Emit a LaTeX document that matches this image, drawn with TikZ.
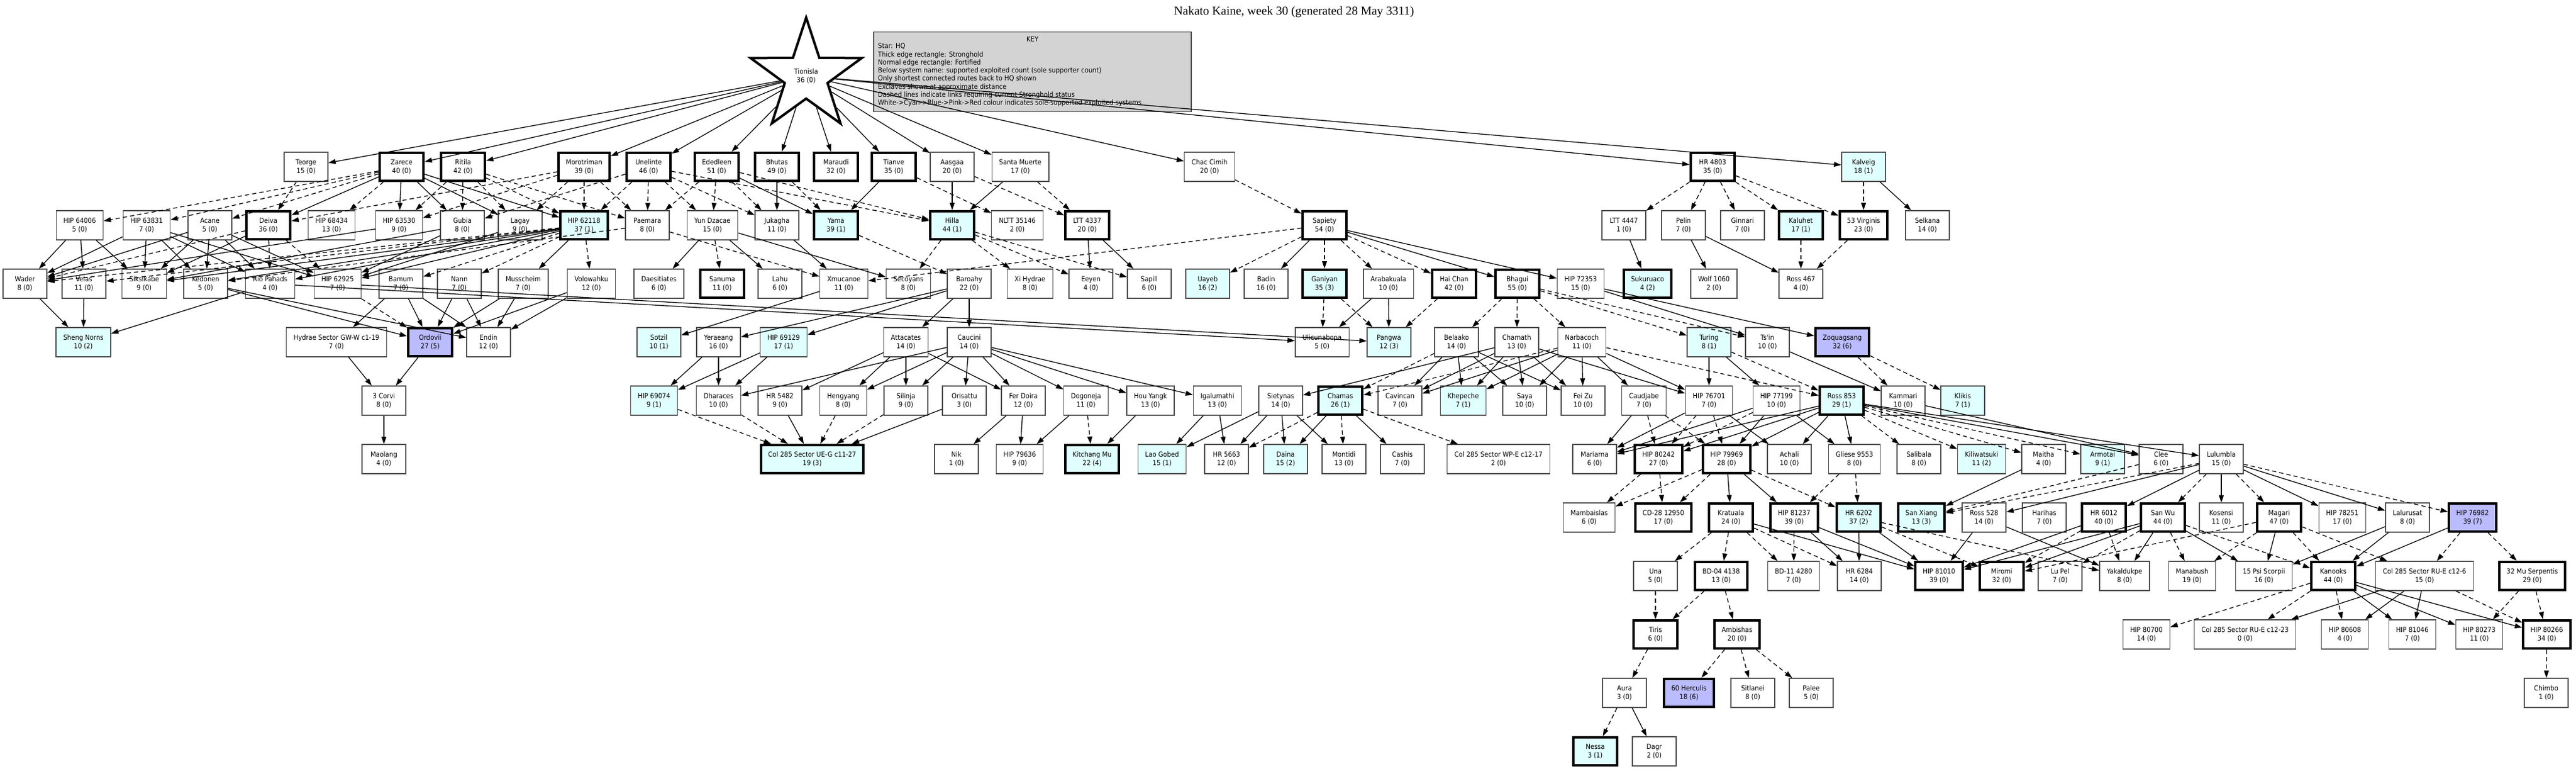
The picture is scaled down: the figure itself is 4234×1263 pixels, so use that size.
\documentclass[tikz,border=0pt]{standalone}
\usepackage{fontspec}
\usetikzlibrary{shapes.geometric,arrows.meta}
\newfontfamily\sysfont{DejaVu Sans Condensed}
\newfontfamily\ttlfont{Liberation Serif}
\definecolor{cyanbg}{HTML}{E0FFFF}
\definecolor{bluebg}{HTML}{BBBBFF}
\definecolor{keybg}{HTML}{D3D3D3}
\tikzset{
  sys/.style={draw=black!70, line width=1.3pt, fill=white, minimum width=72pt, minimum height=48pt, inner xsep=12pt, align=center, font=\sysfont\fontsize{11.5}{14}\selectfont},
  sh/.style={sys, draw=black, line width=4pt, minimum height=46pt},
  cy/.style={fill=cyanbg},
  bl/.style={fill=bluebg},
  ed/.style={line width=1.3pt, -{Triangle[length=12pt,width=8pt]}},
  dd/.style={ed, dash pattern=on 7pt off 5pt},
}
\newcommand\Sol[2]{\foreach \tt in {#2} {\draw[ed] (#1) -- (\tt);}}
\newcommand\Das[2]{\foreach \tt in {#2} {\draw[dd] (#1) -- (\tt);}}
\begin{document}
\begin{tikzpicture}[x=1pt,y=1pt]
\useasboundingbox (0,0) rectangle (4234,-1263);
% title
\node[font=\ttlfont\fontsize{20}{24}\selectfont] (title) at (2127,-20) {Nakato Kaine, week 30 (generated 28 May 3311)};
% key
\node[draw=black!70, line width=1.3pt, fill=keybg, minimum width=522pt, minimum height=131pt] (key) at (1697,-118) {};
\node[font=\sysfont\fontsize{11.5}{13.3}\selectfont] (keyt) at (1697,-64) {KEY};
\node[font=\sysfont\fontsize{11.5}{13.3}\selectfont, align=left, anchor=north west, inner sep=0pt] (keyb) at (1443,-71) {Star: HQ\\Thick edge rectangle: Stronghold\\Normal edge rectangle: Fortified\\Below system name: supported exploited count (sole supporter count)\\Only shortest connected routes back to HQ shown\\Exclaves shown at approximate distance\\Dashed lines indicate links requiring current Stronghold status\\White->Cyan->Blue->Pink->Red colour indicates sole-supported exploited systems};
% star
\node[star, star points=5, star point ratio=2.6, minimum size=192pt, inner sep=0pt, draw=black, line width=4pt, fill=white, font=\sysfont\fontsize{11.5}{14}\selectfont, align=center] (hq) at (1325,-125) {Tionisla\\36 (0)};
% row 1
\node[sys] (teorge) at (503,-274) {Teorge\\15 (0)};
\node[sh] (zarece) at (660,-274) {Zarece\\40 (0)};
\node[sh] (ritila) at (761,-274) {Ritila\\42 (0)};
\node[sh] (morotriman) at (960,-274) {Morotriman\\39 (0)};
\node[sh] (unelinte) at (1066,-274) {Unelinte\\46 (0)};
\node[sh] (ededleen) at (1178,-274) {Ededleen\\51 (0)};
\node[sh] (bhutas) at (1277,-274) {Bhutas\\49 (0)};
\node[sh] (maraudi) at (1374,-274) {Maraudi\\32 (0)};
\node[sh] (tianve) at (1469,-274) {Tianve\\35 (0)};
\node[sys] (aasgaa) at (1565,-274) {Aasgaa\\20 (0)};
\node[sys] (santamuerte) at (1677,-274) {Santa Muerte\\17 (0)};
\node[sys] (chaccimih) at (1988,-274) {Chac Cimih\\20 (0)};
\node[sh] (hr4803) at (2815,-274) {HR 4803\\35 (0)};
\node[sys,cy] (kalveig) at (3063,-274) {Kalveig\\18 (1)};
% row 2
\node[sys] (hip64006) at (131,-370) {HIP 64006\\5 (0)};
\node[sys] (hip63831) at (241,-370) {HIP 63831\\7 (0)};
\node[sys] (acane) at (345,-370) {Acane\\5 (0)};
\node[sh] (deiva) at (441,-370) {Deiva\\36 (0)};
\node[sys] (hip68434) at (545,-370) {HIP 68434\\13 (0)};
\node[sys] (hip63530) at (656,-370) {HIP 63530\\9 (0)};
\node[sys] (gubia) at (760,-370) {Gubia\\8 (0)};
\node[sys] (lagay) at (855,-370) {Lagay\\9 (0)};
\node[sh,cy] (hip62118) at (960,-370) {HIP 62118\\37 (1)};
\node[sys] (paemara) at (1064,-370) {Paemara\\8 (0)};
\node[sys] (yundzacae) at (1171,-370) {Yun Dzacae\\15 (0)};
\node[sys] (jukagha) at (1277,-370) {Jukagha\\11 (0)};
\node[sh,cy] (yama) at (1374,-370) {Yama\\39 (1)};
\node[sh,cy] (hilla) at (1565,-370) {Hilla\\44 (1)};
\node[sys] (nltt) at (1672,-370) {NLTT 35146\\2 (0)};
\node[sh] (ltt4337) at (1787,-370) {LTT 4337\\20 (0)};
\node[sh] (sapiety) at (2177,-370) {Sapiety\\54 (0)};
\node[sys] (ltt4447) at (2669,-370) {LTT 4447\\1 (0)};
\node[sys] (pelin) at (2767,-370) {Pelin\\7 (0)};
\node[sys] (ginnari) at (2864,-370) {Ginnari\\7 (0)};
\node[sh,cy] (kaluhet) at (2960,-370) {Kaluhet\\17 (1)};
\node[sh] (virginis) at (3063,-370) {53 Virginis\\23 (0)};
\node[sys] (selkana) at (3168,-370) {Selkana\\14 (0)};
% row 3
\node[sys] (wader) at (41,-466) {Wader\\8 (0)};
\node[sys] (velas) at (138,-466) {Velas\\11 (0)};
\node[sys] (siksikabe) at (237,-466) {Siksikabe\\9 (0)};
\node[sys] (kedonen) at (338,-466) {Kedonen\\5 (0)};
\node[sys] (riopahads) at (444,-466) {Rio Pahads\\4 (0)};
\node[sys] (hip62925) at (555,-466) {HIP 62925\\7 (0)};
\node[sys] (bamum) at (659,-466) {Bamum\\7 (0)};
\node[sys] (nann) at (755,-466) {Nann\\7 (0)};
\node[sys] (musscheim) at (860,-466) {Musscheim\\7 (0)};
\node[sys] (volowahku) at (972,-466) {Volowahku\\12 (0)};
\node[sys] (daesitiates) at (1083,-466) {Daesitiates\\6 (0)};
\node[sh] (sanuma) at (1187,-466) {Sanuma\\11 (0)};
\node[sys] (lahu) at (1282,-466) {Lahu\\6 (0)};
\node[sys] (xmucanoe) at (1387,-466) {Xmucanoe\\11 (0)};
\node[sys] (secoyans) at (1493,-466) {Secoyans\\8 (0)};
\node[sys] (baroahy) at (1593,-466) {Baroahy\\22 (0)};
\node[sys] (xihydrae) at (1693,-466) {Xi Hydrae\\8 (0)};
\node[sys] (eeyen) at (1793,-466) {Eeyen\\4 (0)};
\node[sys] (sapill) at (1889,-466) {Sapill\\6 (0)};
\node[sys,cy] (uayeb) at (1985,-466) {Uayeb\\16 (2)};
\node[sys] (badin) at (2081,-466) {Badin\\16 (0)};
\node[sh,cy] (ganiyan) at (2177,-466) {Ganiyan\\35 (3)};
\node[sys] (arabakuala) at (2282,-466) {Arabakuala\\10 (0)};
\node[sh] (haichan) at (2390,-466) {Hai Chan\\42 (0)};
\node[sh] (bhagui) at (2494,-466) {Bhagui\\55 (0)};
\node[sys] (hip72353) at (2598,-466) {HIP 72353\\15 (0)};
\node[sh,cy] (sukuruaco) at (2708,-466) {Sukuruaco\\4 (2)};
\node[sys] (wolf) at (2817,-466) {Wolf 1060\\2 (0)};
\node[sys] (ross467) at (2960,-466) {Ross 467\\4 (0)};
% row 4
\node[sys,cy] (shengnorns) at (137,-562) {Sheng Norns\\10 (2)};
\node[sys] (hydrae) at (553,-562) {Hydrae Sector GW-W c1-19\\7 (0)};
\node[sh,bl] (ordovii) at (707,-562) {Ordovii\\27 (5)};
\node[sys] (endin) at (803,-562) {Endin\\12 (0)};
\node[sys,cy] (sotzil) at (1083,-562) {Sotzil\\10 (1)};
\node[sys] (yeraeang) at (1181,-562) {Yeraeang\\16 (0)};
\node[sys,cy] (hip69129) at (1288,-562) {HIP 69129\\17 (1)};
\node[sys] (attacates) at (1489,-562) {Attacates\\14 (0)};
\node[sys] (caucini) at (1593,-562) {Caucini\\14 (0)};
\node[sys] (ulicunabopa) at (2173,-562) {Ulicunabopa\\5 (0)};
\node[sys,cy] (pangwa) at (2283,-562) {Pangwa\\12 (3)};
\node[sys] (belaako) at (2394,-562) {Belaako\\14 (0)};
\node[sys] (chamath) at (2493,-562) {Chamath\\13 (0)};
\node[sys] (narbacoch) at (2600,-562) {Narbacoch\\11 (0)};
\node[sys,cy] (turing) at (2809,-562) {Turing\\8 (1)};
\node[sys] (tsin) at (2905,-562) {Ts'in\\10 (0)};
\node[sh,bl] (zoquagsang) at (3028,-562) {Zoquagsang\\32 (6)};
% row 5
\node[sys] (corvi) at (631,-658) {3 Corvi\\8 (0)};
\node[sys,cy] (hip69074) at (1075,-658) {HIP 69074\\9 (1)};
\node[sys] (dharaces) at (1181,-658) {Dharaces\\10 (0)};
\node[sys] (hr5482) at (1282,-658) {HR 5482\\9 (0)};
\node[sys] (hengyang) at (1386,-658) {Hengyang\\8 (0)};
\node[sys] (silinja) at (1489,-658) {Silinja\\9 (0)};
\node[sys] (orisattu) at (1585,-658) {Orisattu\\3 (0)};
\node[sys] (ferdoira) at (1682,-658) {Fer Doira\\12 (0)};
\node[sys] (dogoneja) at (1785,-658) {Dogoneja\\11 (0)};
\node[sys] (houyangk) at (1891,-658) {Hou Yangk\\13 (0)};
\node[sys] (igalumathi) at (2001,-658) {Igalumathi\\13 (0)};
\node[sys] (sietynas) at (2105,-658) {Sietynas\\14 (0)};
\node[sh,cy] (chamas) at (2203,-658) {Chamas\\26 (1)};
\node[sys] (cavincan) at (2301,-658) {Cavincan\\7 (0)};
\node[sys,cy] (khepeche) at (2405,-658) {Khepeche\\7 (1)};
\node[sys] (saya) at (2506,-658) {Saya\\10 (0)};
\node[sys] (feizu) at (2602,-658) {Fei Zu\\10 (0)};
\node[sys] (caudjabe) at (2702,-658) {Caudjabe\\7 (0)};
\node[sys] (hip76701) at (2809,-658) {HIP 76701\\7 (0)};
\node[sys] (hip77199) at (2920,-658) {HIP 77199\\10 (0)};
\node[sh,cy] (ross853) at (3027,-658) {Ross 853\\29 (1)};
\node[sys] (kammari) at (3128,-658) {Kammari\\10 (0)};
\node[sys,cy] (klikis) at (3226,-658) {Klikis\\7 (1)};
% row 6
\node[sys] (maolang) at (631,-754) {Maolang\\4 (0)};
\node[sh,cy] (ueg) at (1335,-754) {Col 285 Sector UE-G c11-27\\19 (3)};
\node[sys] (nik) at (1572,-754) {Nik\\1 (0)};
\node[sys] (hip79636) at (1676,-754) {HIP 79636\\9 (0)};
\node[sh,cy] (kitchang) at (1795,-754) {Kitchang Mu\\22 (4)};
\node[sys,cy] (laogobed) at (1910,-754) {Lao Gobed\\15 (1)};
\node[sys] (hr5663) at (2016,-754) {HR 5663\\12 (0)};
\node[sys,cy] (daina) at (2113,-754) {Daina\\15 (2)};
\node[sys] (montidi) at (2209,-754) {Montidi\\13 (0)};
\node[sys] (cashis) at (2305,-754) {Cashis\\7 (0)};
\node[sys] (wpe) at (2463,-754) {Col 285 Sector WP-E c12-17\\2 (0)};
\node[sys] (mariarna) at (2621,-754) {Mariarna\\6 (0)};
\node[sh] (hip80242) at (2726,-754) {HIP 80242\\27 (0)};
\node[sh] (hip79969) at (2838,-754) {HIP 79969\\28 (0)};
\node[sys] (achali) at (2941,-754) {Achali\\10 (0)};
\node[sys] (gliese) at (3048,-754) {Gliese 9553\\8 (0)};
\node[sys] (salibala) at (3154,-754) {Salibala\\8 (0)};
\node[sys,cy] (kiliwatsuki) at (3257,-754) {Kiliwatsuki\\11 (2)};
\node[sys] (maitha) at (3359,-754) {Maitha\\4 (0)};
\node[sys,cy] (armotai) at (3456,-754) {Armotai\\9 (1)};
\node[sys] (clee) at (3552,-754) {Clee\\6 (0)};
\node[sys] (lulumbla) at (3651,-754) {Lulumbla\\15 (0)};
% row 7
\node[sys] (mambaislas) at (2612,-850) {Mambaislas\\6 (0)};
\node[sh] (cd28) at (2734,-850) {CD-28 12950\\17 (0)};
\node[sh] (kratuala) at (2845,-850) {Kratuala\\24 (0)};
\node[sh] (hip81237) at (2949,-850) {HIP 81237\\39 (0)};
\node[sh,cy] (hr6202) at (3055,-850) {HR 6202\\37 (2)};
\node[sh,cy] (sanxiang) at (3158,-850) {San Xiang\\13 (3)};
\node[sys] (ross528) at (3261,-850) {Ross 528\\14 (0)};
\node[sys] (harihas) at (3360,-850) {Harihas\\7 (0)};
\node[sh] (hr6012) at (3458,-850) {HR 6012\\40 (0)};
\node[sh] (sanwu) at (3555,-850) {San Wu\\44 (0)};
\node[sys] (kosensi) at (3651,-850) {Kosensi\\11 (0)};
\node[sh] (magari) at (3746,-850) {Magari\\47 (0)};
\node[sys] (hip78251) at (3850,-850) {HIP 78251\\17 (0)};
\node[sys] (lalurusat) at (3957,-850) {Lalurusat\\8 (0)};
\node[sh,bl] (hip76982) at (4064,-850) {HIP 76982\\39 (7)};
% row 8
\node[sys] (una) at (2721,-946) {Una\\5 (0)};
\node[sh] (bd04) at (2829,-946) {BD-04 4138\\13 (0)};
\node[sys] (bd11) at (2948,-946) {BD-11 4280\\7 (0)};
\node[sys] (hr6284) at (3056,-946) {HR 6284\\14 (0)};
\node[sh] (hip81010) at (3187,-946) {HIP 81010\\39 (0)};
\node[sh] (miromi) at (3290,-946) {Miromi\\32 (0)};
\node[sys] (lupel) at (3386,-946) {Lu Pel\\7 (0)};
\node[sys] (yakaldukpe) at (3492,-946) {Yakaldukpe\\8 (0)};
\node[sys] (manabush) at (3603,-946) {Manabush\\19 (0)};
\node[sys] (psi) at (3721,-946) {15 Psi Scorpii\\16 (0)};
\node[sh] (kanooks) at (3835,-946) {Kanooks\\44 (0)};
\node[sys] (rue6) at (3985,-946) {Col 285 Sector RU-E c12-6\\15 (0)};
\node[sh] (mu32) at (4162,-946) {32 Mu Serpentis\\29 (0)};
% row 9
\node[sh] (tiris) at (2721,-1042) {Tiris\\6 (0)};
\node[sh] (ambishas) at (2855,-1042) {Ambishas\\20 (0)};
\node[sys] (hip80700) at (3528,-1042) {HIP 80700\\14 (0)};
\node[sys] (rue23) at (3690,-1042) {Col 285 Sector RU-E c12-23\\0 (0)};
\node[sys] (hip80608) at (3854,-1042) {HIP 80608\\4 (0)};
\node[sys] (hip81046) at (3965,-1042) {HIP 81046\\7 (0)};
\node[sys] (hip80273) at (4075,-1042) {HIP 80273\\11 (0)};
\node[sh] (hip80266) at (4186,-1042) {HIP 80266\\34 (0)};
% row 10
\node[sys] (aura) at (2670,-1138) {Aura\\3 (0)};
\node[sh,bl] (herculis) at (2776,-1138) {60 Herculis\\18 (6)};
\node[sys] (sitlanei) at (2881,-1138) {Sitlanei\\8 (0)};
\node[sys] (palee) at (2977,-1138) {Palee\\5 (0)};
\node[sys] (chimbo) at (4185,-1138) {Chimbo\\1 (0)};
% row 11
\node[sh,cy] (nessa) at (2622,-1234) {Nessa\\3 (1)};
\node[sys] (dagr) at (2719,-1234) {Dagr\\2 (0)};
% ---- edges ----
\Sol{hq}{teorge,zarece,ritila,morotriman,unelinte,ededleen,bhutas,maraudi,tianve,aasgaa,santamuerte,chaccimih,hr4803,kalveig}
\Das{teorge}{deiva}
\Das{zarece}{hip64006,hip63831,acane,hip68434}
\Sol{zarece}{deiva,hip63530,gubia,lagay,hip62118}
\Das{ritila}{gubia,lagay,hip62118,paemara,hip63530}
\Das{morotriman}{hip62118,lagay,paemara,deiva,hip63530}
\Das{unelinte}{paemara,yundzacae,jukagha,hip62118,gubia,hilla}
\Das{ededleen}{paemara,yundzacae,jukagha,hilla}
\Sol{ededleen}{yama}
\Sol{bhutas}{jukagha}
\Das{bhutas}{yama}
\Sol{tianve}{yama}
\Das{tianve}{nltt}
\Sol{aasgaa}{hilla}
\Das{aasgaa}{ltt4337}
\Sol{santamuerte}{hilla}
\Das{santamuerte}{ltt4337}
\Das{chaccimih}{sapiety}
\Das{hr4803}{ltt4447,pelin,ginnari,kaluhet,virginis}
\Das{kalveig}{virginis}
\Sol{kalveig}{selkana}
% row2 -> row3
\Sol{hip64006}{wader,velas,siksikabe}
\Sol{hip63831}{wader,siksikabe,kedonen,riopahads,hip62925}
\Sol{acane}{wader,siksikabe,kedonen,riopahads,hip62925}
\Sol{deiva}{siksikabe}
\Das{deiva}{wader,riopahads,hip62925}
\Sol{hip63530}{wader}
\Sol{gubia}{hip62925,siksikabe}
\Sol{lagay}{hip62925}
\Sol{hip62118}{siksikabe,riopahads,hip62925,musscheim,kedonen}
\Das{hip62118}{bamum,nann,volowahku,wader,velas}
\Das{paemara}{xmucanoe,kedonen}
\Sol{yundzacae}{daesitiates,lahu,secoyans}
\Das{yundzacae}{sanuma}
\Sol{jukagha}{xmucanoe}
\Das{yama}{baroahy}
\Das{hilla}{secoyans,xihydrae,eeyen,sapill}
\Sol{ltt4337}{eeyen,sapill}
\Das{sapiety}{xmucanoe,uayeb,ganiyan,arabakuala,haichan}
\Sol{sapiety}{badin,bhagui,hip72353}
\Sol{ltt4447}{sukuruaco}
\Sol{pelin}{wolf,ross467}
\Das{kaluhet}{ross467}
\Das{virginis}{ross467}
% row3 -> row4
\Sol{wader}{shengnorns}
\Sol{velas}{shengnorns}
\Sol{riopahads}{shengnorns,ulicunabopa}
\Sol{kedonen}{ordovii,endin}
\Das{hip62925}{ordovii}
\Sol{hip62925}{pangwa}
\Sol{bamum}{hydrae,ordovii,endin}
\Sol{nann}{ordovii,endin}
\Sol{musscheim}{ordovii,endin}
\Sol{volowahku}{ordovii,endin}
\Sol{xmucanoe}{sotzil}
\Sol{baroahy}{yeraeang,hip69129,attacates,caucini}
\Das{ganiyan}{ulicunabopa,pangwa}
\Sol{arabakuala}{ulicunabopa,pangwa}
\Das{haichan}{pangwa}
\Das{bhagui}{belaako,chamath,narbacoch,turing,tsin}
\Sol{hip72353}{tsin,zoquagsang}
% row4 -> row5
\Sol{hydrae}{corvi}
\Sol{ordovii}{corvi}
\Sol{yeraeang}{hip69074,dharaces}
\Sol{hip69129}{hip69074,dharaces}
\Sol{attacates}{hr5482,hengyang,silinja,ferdoira}
\Sol{caucini}{dharaces,hengyang,silinja,orisattu,ferdoira,dogoneja,houyangk,igalumathi}
\Das{belaako}{chamas}
\Sol{belaako}{cavincan,khepeche,saya,feizu}
\Sol{chamath}{sietynas,cavincan,khepeche,saya,feizu,hip76701}
\Das{narbacoch}{chamas,ross853}
\Sol{narbacoch}{cavincan,khepeche,saya,feizu,caudjabe,hip76701}
\Sol{turing}{hip76701,hip77199}
\Das{turing}{ross853}
\Sol{tsin}{kammari}
\Das{zoquagsang}{kammari,klikis}
% row5 -> row6
\Sol{corvi}{maolang}
\Das{hip69074}{ueg}
\Das{dharaces}{ueg}
\Sol{hr5482}{ueg}
\Das{hengyang}{ueg}
\Das{silinja}{ueg}
\Sol{orisattu}{ueg}
\Sol{ferdoira}{nik,hip79636}
\Das{dogoneja}{kitchang}
\Sol{dogoneja}{hip79636}
\Sol{houyangk}{kitchang}
\Sol{igalumathi}{laogobed,hr5663}
\Sol{sietynas}{laogobed,hr5663,daina,montidi}
\Das{chamas}{hr5663,montidi,wpe}
\Sol{chamas}{daina,cashis}
\Sol{caudjabe}{mariarna}
\Das{caudjabe}{hip80242,hip79969}
\Sol{hip76701}{mariarna,achali}
\Das{hip76701}{hip80242,hip79969}
\Sol{hip77199}{mariarna,hip79969,gliese}
\Das{hip77199}{hip80242}
\Sol{ross853}{mariarna,hip80242,hip79969,achali,gliese,clee,lulumbla}
\Das{ross853}{salibala,kiliwatsuki,maitha,armotai}
\Sol{kammari}{clee}
% row6 -> row7
\Das{hip80242}{mambaislas,cd28}
\Das{hip79969}{mambaislas,cd28,hr6202}
\Sol{hip79969}{kratuala,hip81237}
\Das{gliese}{hip81237,hr6202}
\Sol{maitha}{sanxiang}
\Das{clee}{sanxiang}
\Das{lulumbla}{sanxiang,sanwu,magari,hip76982}
\Sol{lulumbla}{ross528,hr6012,kosensi,hip78251,lalurusat}
% row7 -> row8
\Das{kratuala}{una,bd04,bd11,hr6284}
\Sol{kratuala}{hip81010}
\Das{hip81237}{bd11}
\Sol{hip81237}{hr6284,hip81010}
\Sol{hr6202}{hr6284,hip81010}
\Das{hr6202}{miromi,yakaldukpe}
\Sol{ross528}{hip81010,yakaldukpe}
\Sol{hr6012}{hip81010}
\Das{hr6012}{miromi,yakaldukpe}
\Sol{sanwu}{hip81010,miromi,yakaldukpe,psi}
\Das{sanwu}{lupel,manabush,kanooks}
\Das{magari}{miromi,manabush,kanooks,rue6}
\Sol{magari}{psi}
\Sol{lalurusat}{psi,kanooks}
\Das{hip76982}{rue6,mu32}
\Sol{hip76982}{kanooks}
% row8 -> row9
\Das{una}{tiris}
\Das{bd04}{tiris,ambishas}
\Das{kanooks}{hip80700,rue23,hip80608}
\Sol{kanooks}{hip81046,hip80273,hip80266}
\Sol{rue6}{rue23,hip80608,hip81046}
\Das{rue6}{hip80266}
\Das{mu32}{hip80273,hip80266}
% row9 -> row10
\Das{tiris}{aura}
\Das{ambishas}{herculis,sitlanei,palee}
\Das{hip80266}{chimbo}
\Das{aura}{nessa}
\Sol{aura}{dagr}
\end{tikzpicture}
\end{document}
